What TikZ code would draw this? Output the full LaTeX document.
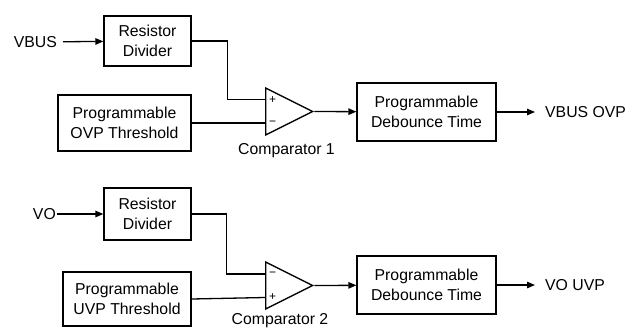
\documentclass[tikz,border=0pt]{standalone}
\usepackage{fontspec}
\setmainfont{Liberation Sans}
\usetikzlibrary{arrows.meta, shapes.geometric, positioning}

\begin{document}
\begin{tikzpicture}[
  x=1pt, y=-1pt,
  lbl/.style={font=\fontsize{15.8}{20}\selectfont, inner sep=0pt},
  blk/.style={draw, line width=1.3pt, align=center, inner sep=0pt,
    font=\fontsize{15.8}{20}\selectfont},
  cmp/.style={draw, line width=1.3pt, isosceles triangle, isosceles triangle stretches,
    shape border rotate=0, minimum width=47pt, minimum height=47pt, inner sep=0pt,
    anchor=lower side},
  sgn/.style={font=\fontsize{12}{12}\selectfont, inner sep=0pt},
  wire/.style={line width=1.3pt},
  ar/.style={wire, -{Triangle[length=8pt, width=6.5pt]}}
]
\useasboundingbox (0,0) rectangle (628,327);
% over-voltage channel
\node[lbl, anchor=east, inner xsep=6pt] (vbus) at (63,42) {VBUS};
\node[blk, minimum width=87pt, minimum height=50pt] (div1) at (147.5,41) {Resistor\\Divider};
\node[blk, minimum width=133pt, minimum height=56pt] (ovp) at (124.5,123) {Programmable\\OVP Threshold};
\node[cmp] (comp1) at (265,111.5) {};
\node[sgn] at (272.5,100) {+};
\node[sgn] at (272.5,123) {−};
\node[lbl] (cname1) at (286.5,151) {Comparator 1};
\node[blk, minimum width=139pt, minimum height=58pt] (deb1) at (426.5,112) {Programmable\\Debounce Time};
\node[lbl, anchor=west, inner xsep=10pt] (vbusovp) at (535,112) {VBUS OVP};
\draw[ar] (vbus) -- (div1);
\draw[wire] (div1.east) -- ++(36,0) |- ([yshift=12pt]comp1.lower side);
\draw[wire] (ovp.east) -- ([yshift=-11.5pt]comp1.lower side);
\draw[ar] (comp1.apex) -- (deb1);
\draw[ar] (deb1) -- (vbusovp);
% under-voltage channel
\node[lbl, anchor=east, inner xsep=1pt] (vo) at (57,214) {VO};
\node[blk, minimum width=87pt, minimum height=52pt] (div2) at (147.5,214) {Resistor\\Divider};
\node[blk, minimum width=128pt, minimum height=54pt] (uvp) at (127,299) {Programmable\\UVP Threshold};
\node[cmp] (comp2) at (265,285.5) {};
\node[sgn] at (272.5,274) {−};
\node[sgn] at (272.5,297.5) {+};
\node[lbl] (cname2) at (280,321) {Comparator 2};
\node[blk, minimum width=139pt, minimum height=58pt] (deb2) at (426.5,285) {Programmable\\Debounce Time};
\node[lbl, anchor=west, inner xsep=10pt] (vouvp) at (535,285) {VO UVP};
\draw[ar] (vo) -- (div2);
\draw[wire] (div2.east) -- ++(35,0) |- ([yshift=11.5pt]comp2.lower side);
\draw[wire] (uvp.east) -- ([yshift=-12pt]comp2.lower side);
\draw[ar] (comp2.apex) -- (deb2);
\draw[ar] (deb2) -- (vouvp);
\end{tikzpicture}
\end{document}
